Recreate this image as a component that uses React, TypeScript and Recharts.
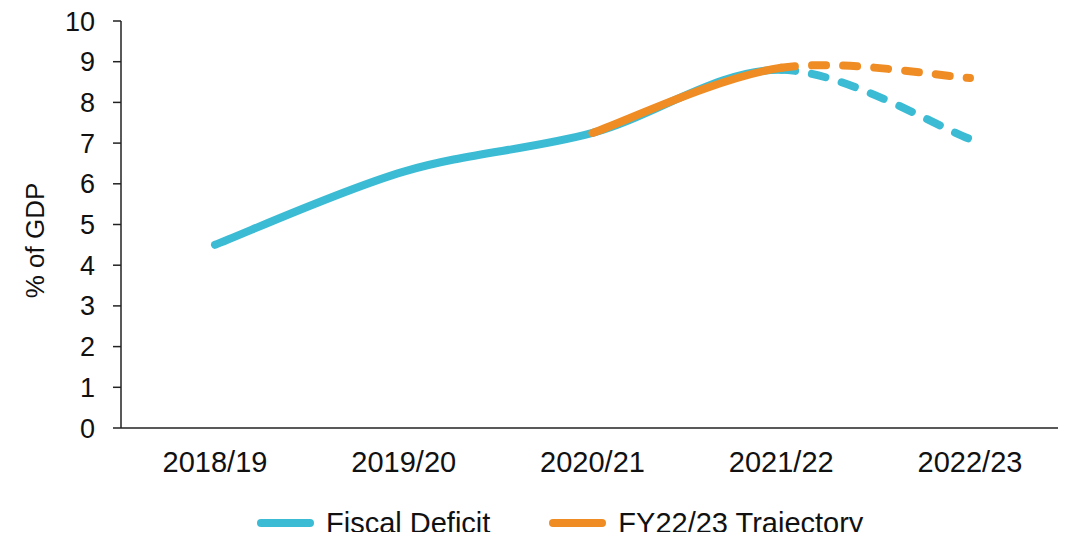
import { LineChart, Line, XAxis, YAxis, Legend } from 'recharts';

const years = ['2018/19', '2019/20', '2020/21', '2021/22', '2022/23'];
const fiscalDeficit = [4.5, 6.3, 7.25, 8.8, 7.1];
const trajectory = [null, null, 7.25, 8.85, 8.6];
const yTicks = [0, 1, 2, 3, 4, 5, 6, 7, 8, 9, 10];

const BLUE = '#3bbcd4';
const ORANGE = '#f08c24';
const FONT = '"Liberation Sans", Arial, sans-serif';

const data = years.map((year, i) => ({
  year,
  fiscal: fiscalDeficit[i],
  traj: trajectory[i],
}));

const legendItems = [
  { name: 'Fiscal Deficit', color: BLUE },
  { name: 'FY22/23 Trajectory', color: ORANGE },
];

// Excel-style smoothed line (Catmull-Rom through every point), but only
// drawing the segments [from, to) so solid and dashed parts share one curve.
function smoothPart(from: number, to: number) {
  return (context: any) => {
    let pts: number[][] = [];
    return {
      areaStart() {},
      areaEnd() {},
      lineStart() {
        pts = [];
      },
      point(x: number, y: number) {
        pts.push([+x, +y]);
      },
      lineEnd() {
        const n = pts.length;
        for (let i = from; i < Math.min(to, n - 1); i++) {
          const p0 = pts[Math.max(i - 1, 0)];
          const p1 = pts[i];
          const p2 = pts[i + 1];
          const p3 = pts[Math.min(i + 2, n - 1)];
          if (i === from) context.moveTo(p1[0], p1[1]);
          context.bezierCurveTo(
            p1[0] + (p2[0] - p0[0]) / 6,
            p1[1] + (p2[1] - p0[1]) / 6,
            p2[0] - (p3[0] - p1[0]) / 6,
            p2[1] - (p3[1] - p1[1]) / 6,
            p2[0],
            p2[1]
          );
        }
      },
    };
  };
}

function ChartLegend() {
  return (
    <div style={{ display: 'flex', paddingLeft: 257, fontFamily: FONT, fontSize: 29, color: '#111', height: 30, alignItems: 'center' }}>
      {legendItems.map((it, i) => (
        <div key={it.name} style={{ display: 'flex', alignItems: 'center', marginRight: i === 0 ? 59 : 0 }}>
          <div style={{ width: 57, height: 8, borderRadius: 4, background: it.color, marginRight: 12 }} />
          <span style={{ lineHeight: '30px' }}>{it.name}</span>
        </div>
      ))}
    </div>
  );
}

function YTitle(props: any) {
  const vb = props.viewBox;
  const x = vb.x + 35;
  const y = vb.y + vb.height / 2 + 16;
  return (
    <text x={x} y={y} transform={`rotate(-90, ${x}, ${y})`} textAnchor="middle" dominantBaseline="central" fontFamily={FONT} fontSize={26} fill="#111">
      % of GDP
    </text>
  );
}

const lineProps = {
  strokeWidth: 8,
  strokeLinecap: 'round' as const,
  dot: false,
  activeDot: false,
  isAnimationActive: false,
};

export default function App() {
  return (
    <div style={{ margin: -8, width: 1066, height: 540, overflow: 'hidden', background: '#fff' }}>
      <LineChart width={1066} height={540} data={data} margin={{ top: 21, right: 2, left: 0, bottom: 2 }}>
        <XAxis
          dataKey="year"
          padding={{ left: 94, right: 94 }}
          tickLine={false}
          axisLine={{ stroke: '#222', strokeWidth: 1.5 }}
          tick={{ fill: '#111', fontSize: 29, fontFamily: FONT }}
          tickMargin={17}
          height={80}
        />
        <YAxis
          domain={[0, 10]}
          ticks={yTicks}
          interval={0}
          width={121}
          tickSize={8}
          tickMargin={18}
          axisLine={{ stroke: '#222', strokeWidth: 1.5 }}
          tickLine={{ stroke: '#222', strokeWidth: 1.5 }}
          tick={{ fill: '#111', fontSize: 27, fontFamily: FONT }}
          label={<YTitle />}
        />
        <Legend verticalAlign="bottom" content={<ChartLegend />} />
        <Line dataKey="fiscal" type={smoothPart(0, 3) as any} stroke={BLUE} {...lineProps} />
        <Line dataKey="fiscal" type={smoothPart(3, 4) as any} stroke={BLUE} strokeDasharray="14 17" {...lineProps} />
        <Line dataKey="traj" type={smoothPart(0, 1) as any} stroke={ORANGE} {...lineProps} />
        <Line dataKey="traj" type={smoothPart(1, 2) as any} stroke={ORANGE} strokeDasharray="14 17" {...lineProps} />
      </LineChart>
    </div>
  );
}
